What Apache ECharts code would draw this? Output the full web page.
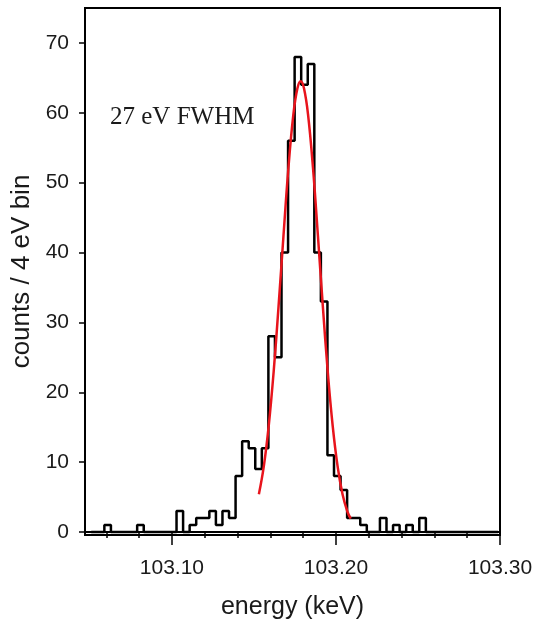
<!DOCTYPE html>
<html>
<head>
<meta charset="utf-8">
<script src="https://cdn.jsdelivr.net/npm/echarts@6/dist/echarts.min.js"></script>
<style>
html,body{margin:0;padding:0;background:#fff;}
#c{width:537px;height:625px;}
</style>
</head>
<body>
<div id="c"></div>
<script>
// ---- data ----
// histogram: 4 eV (0.004 keV) bins, first bin's left edge in keV
const binStart = 103.0508;
const binWidth = 0.004;
const counts = [0,0,1,0,0,0,0,1,0,0,0,0,0,3,0,1,2,2,3,1,3,2,8,13,12,9,12,28,25,40,56,68,64,67,40,33,11,8,6,2,2,1,0,0,2,0,1,0,1,0,2,0,0,0,0,0,0,0,0,0,0,0];

// fitted peak (red curve)
const fitEnergy = [103.153,103.156,103.159,103.162,103.165,103.168,103.171,103.174,103.1765,103.1785,103.1805,103.183,103.186,103.189,103.192,103.195,103.198,103.201,103.204,103.207,103.209];
const fitCounts = [5.4,9.4,15.2,22.9,32.3,42.4,52.1,59.7,63.5,64.5,63.5,59.7,52.1,42.4,32.3,22.9,15.2,9.4,5.4,2.9,1.9];

// axes
const xMin = 103.047, xMax = 103.30;
const yMin = -0.43, yMax = 75;
const xMinorTicks = [103.06,103.08,103.10,103.12,103.14,103.16,103.18,103.20,103.22,103.24,103.26,103.28,103.30];
const xMajorTicks = [103.10,103.20,103.30];
const yTicks = [0,10,20,30,40,50,60,70];
const annotation = '27 eV FWHM';

// ---- chart ----
const histData = counts.map((c, i) => [binStart + i * binWidth, c]);
histData.push([binStart + counts.length * binWidth, counts[counts.length - 1]]);
const fitData = fitEnergy.map((e, i) => [e, fitCounts[i]]);

const sans = '"Liberation Sans", Arial, sans-serif';
const rect = {left: 85, right: 37, top: 8, bottom: 89};
const black = '#000';

const chart = echarts.init(document.getElementById('c'), null, {renderer: 'canvas'});
chart.setOption({
  animation: false,
  backgroundColor: '#fff',
  grid: [
    Object.assign({show: true, borderColor: black, borderWidth: 2, backgroundColor: 'transparent'}, rect),
    Object.assign({}, rect)
  ],
  xAxis: [
    {
      type: 'value', gridIndex: 0, min: xMin, max: xMax,
      name: 'energy (keV)', nameLocation: 'middle', nameGap: 60,
      nameTextStyle: {fontFamily: sans, fontSize: 25, color: '#1a1a1a'},
      axisLine: {show: true, lineStyle: {color: black, width: 2}},
      axisTick: {show: true, customValues: xMinorTicks, length: 6, lineStyle: {color: black, width: 1.5}},
      axisLabel: {customValues: xMajorTicks, formatter: v => v.toFixed(2), margin: 23,
                  fontFamily: sans, fontSize: 21, color: '#1a1a1a'},
      splitLine: {show: false}
    },
    {
      type: 'value', gridIndex: 1, min: xMin, max: xMax,
      axisLine: {show: false},
      axisTick: {show: true, customValues: xMajorTicks, length: 12, lineStyle: {color: black, width: 1.5}},
      axisLabel: {show: false},
      splitLine: {show: false}
    }
  ],
  yAxis: [
    {
      type: 'value', gridIndex: 0, min: yMin, max: yMax,
      name: 'counts / 4 eV bin', nameLocation: 'middle', nameGap: 50,
      nameTextStyle: {fontFamily: sans, fontSize: 26, color: '#1a1a1a'},
      axisLine: {show: true, lineStyle: {color: black, width: 2}},
      axisTick: {show: true, customValues: yTicks, length: 6, lineStyle: {color: black, width: 1.5}},
      axisLabel: {customValues: yTicks, margin: 16, fontFamily: sans, fontSize: 21, color: '#1a1a1a'},
      splitLine: {show: false}
    },
    {type: 'value', gridIndex: 1, min: yMin, max: yMax, show: false}
  ],
  series: [
    {
      type: 'line', xAxisIndex: 0, yAxisIndex: 0, data: histData, step: 'end',
      symbol: 'none', lineStyle: {color: black, width: 2.5}, z: 3
    },
    {
      type: 'line', xAxisIndex: 0, yAxisIndex: 0, data: fitData, smooth: 0.4,
      symbol: 'none', lineStyle: {color: '#e8141c', width: 2.5}, z: 4
    }
  ],
  graphic: [
    {
      type: 'text', left: 110, top: 105,
      style: {text: annotation, font: '25px "Liberation Serif", "Times New Roman", serif', fill: '#1a1a1a'}
    }
  ]
});
</script>
</body>
</html>
